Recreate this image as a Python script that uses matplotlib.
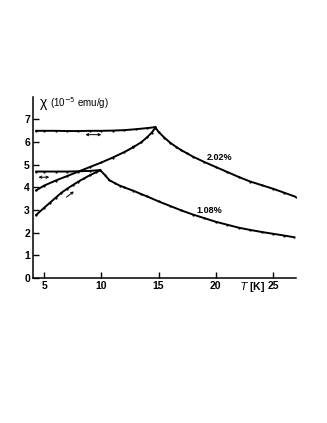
import matplotlib.pyplot as plt

plt.rcParams["font.family"] = ["Liberation Sans", "DejaVu Sans"]

# 2.02 % sample
t_fc_202 = [4.3, 5.0, 6.0, 7.0, 8.0, 9.0, 10.0, 11.0, 12.0, 13.0, 14.0, 14.7]
chi_fc_202 = [6.50, 6.50, 6.50, 6.49, 6.49, 6.50, 6.50, 6.51, 6.53, 6.57, 6.62, 6.66]
t_zfc_202 = [4.3, 5.0, 6.0, 7.0, 8.0, 9.0, 10.0, 11.0, 12.0, 12.8, 13.5, 14.0, 14.4, 14.7]
chi_zfc_202 = [3.87, 4.08, 4.30, 4.50, 4.70, 4.90, 5.10, 5.32, 5.56, 5.78, 6.00, 6.22, 6.42, 6.62]
t_para_202 = [14.7, 15.0, 15.5, 16.0, 16.5, 17.0, 17.5, 18.0, 19.0, 20.0, 21.0, 22.0, 23.0,
              24.0, 25.0, 26.0, 27.0]
chi_para_202 = [6.66, 6.45, 6.20, 5.98, 5.80, 5.64, 5.50, 5.36, 5.12, 4.90, 4.68, 4.46, 4.26,
                4.10, 3.94, 3.76, 3.58]

# 1.08 % sample
t_fc_108 = [4.3, 5.0, 6.0, 7.0, 8.0, 9.0, 9.8]
chi_fc_108 = [4.70, 4.70, 4.70, 4.70, 4.71, 4.73, 4.76]
t_zfc_108 = [4.3, 5.0, 5.5, 6.0, 6.5, 7.0, 7.5, 8.0, 8.5, 9.0, 9.5, 9.9]
chi_zfc_108 = [2.78, 3.10, 3.32, 3.54, 3.76, 3.94, 4.10, 4.26, 4.40, 4.54, 4.66, 4.76]
t_para_108 = [9.9, 10.3, 10.7, 11.2, 11.6, 12.0, 12.8, 13.5, 14.0, 15.0, 16.0, 17.0, 18.0,
              19.0, 20.0, 21.0, 22.0, 23.0, 24.0, 25.0, 26.0, 26.8]
chi_para_108 = [4.76, 4.55, 4.32, 4.18, 4.08, 4.00, 3.85, 3.70, 3.60, 3.38, 3.18, 2.98, 2.80,
                2.64, 2.48, 2.35, 2.22, 2.12, 2.03, 1.95, 1.87, 1.80]

x_ticks = [5, 10, 15, 20, 25]
y_ticks = [0, 1, 2, 3, 4, 5, 6, 7]

fig = plt.figure(figsize=(3.27, 4.23), dpi=100)
ax = fig.add_axes([0.100, 0.343, 0.805, 0.428])

for t, chi in [(t_fc_202, chi_fc_202), (t_zfc_202, chi_zfc_202), (t_para_202, chi_para_202),
               (t_fc_108, chi_fc_108), (t_zfc_108, chi_zfc_108), (t_para_108, chi_para_108)]:
    ax.plot(t, chi, color="black", lw=1.4, marker=".", ms=1.2)

arrow = dict(arrowstyle="->", color="black", lw=0.7, mutation_scale=4,
             shrinkA=0, shrinkB=0)
darrow = dict(arrowstyle="<->", color="black", lw=0.7, mutation_scale=4,
              shrinkA=0, shrinkB=0)
ax.annotate("", xy=(10.0, 6.33), xytext=(8.6, 6.33), arrowprops=darrow)
ax.annotate("", xy=(5.45, 4.45), xytext=(4.5, 4.45), arrowprops=darrow)
ax.annotate("", xy=(13.0, 5.85), xytext=(12.2, 5.6), arrowprops=arrow)
ax.annotate("", xy=(7.6, 3.82), xytext=(6.95, 3.57), arrowprops=arrow)

ax.text(20.3, 5.32, "2.02%", fontsize=6.5, fontweight="bold", ha="center", va="center")
ax.text(19.4, 3.0, "1.08%", fontsize=6.5, fontweight="bold", ha="center", va="center")
ax.text(4.6, 7.72, "χ", fontsize=10, ha="left", va="center")
ax.text(5.5, 7.72, r"(10$^{-5}$ emu/g)", fontsize=7, ha="left", va="center")
ax.text(23.2, -0.08, r"$\it{T}$ [K]", fontsize=7.5, fontweight="bold", ha="center", va="top")

ax.set_xlim(4.0, 27.0)
ax.set_ylim(0, 8)
ax.set_xticks(x_ticks)
ax.set_yticks(y_ticks)
ax.tick_params(direction="in", length=4, width=1, labelsize=7.5, pad=2)
for lab in ax.get_xticklabels() + ax.get_yticklabels():
    lab.set_fontweight("bold")
ax.spines["top"].set_visible(False)
ax.spines["right"].set_visible(False)
ax.spines["left"].set_linewidth(1.1)
ax.spines["bottom"].set_linewidth(1.1)

fig.savefig("out.png", dpi=100)
